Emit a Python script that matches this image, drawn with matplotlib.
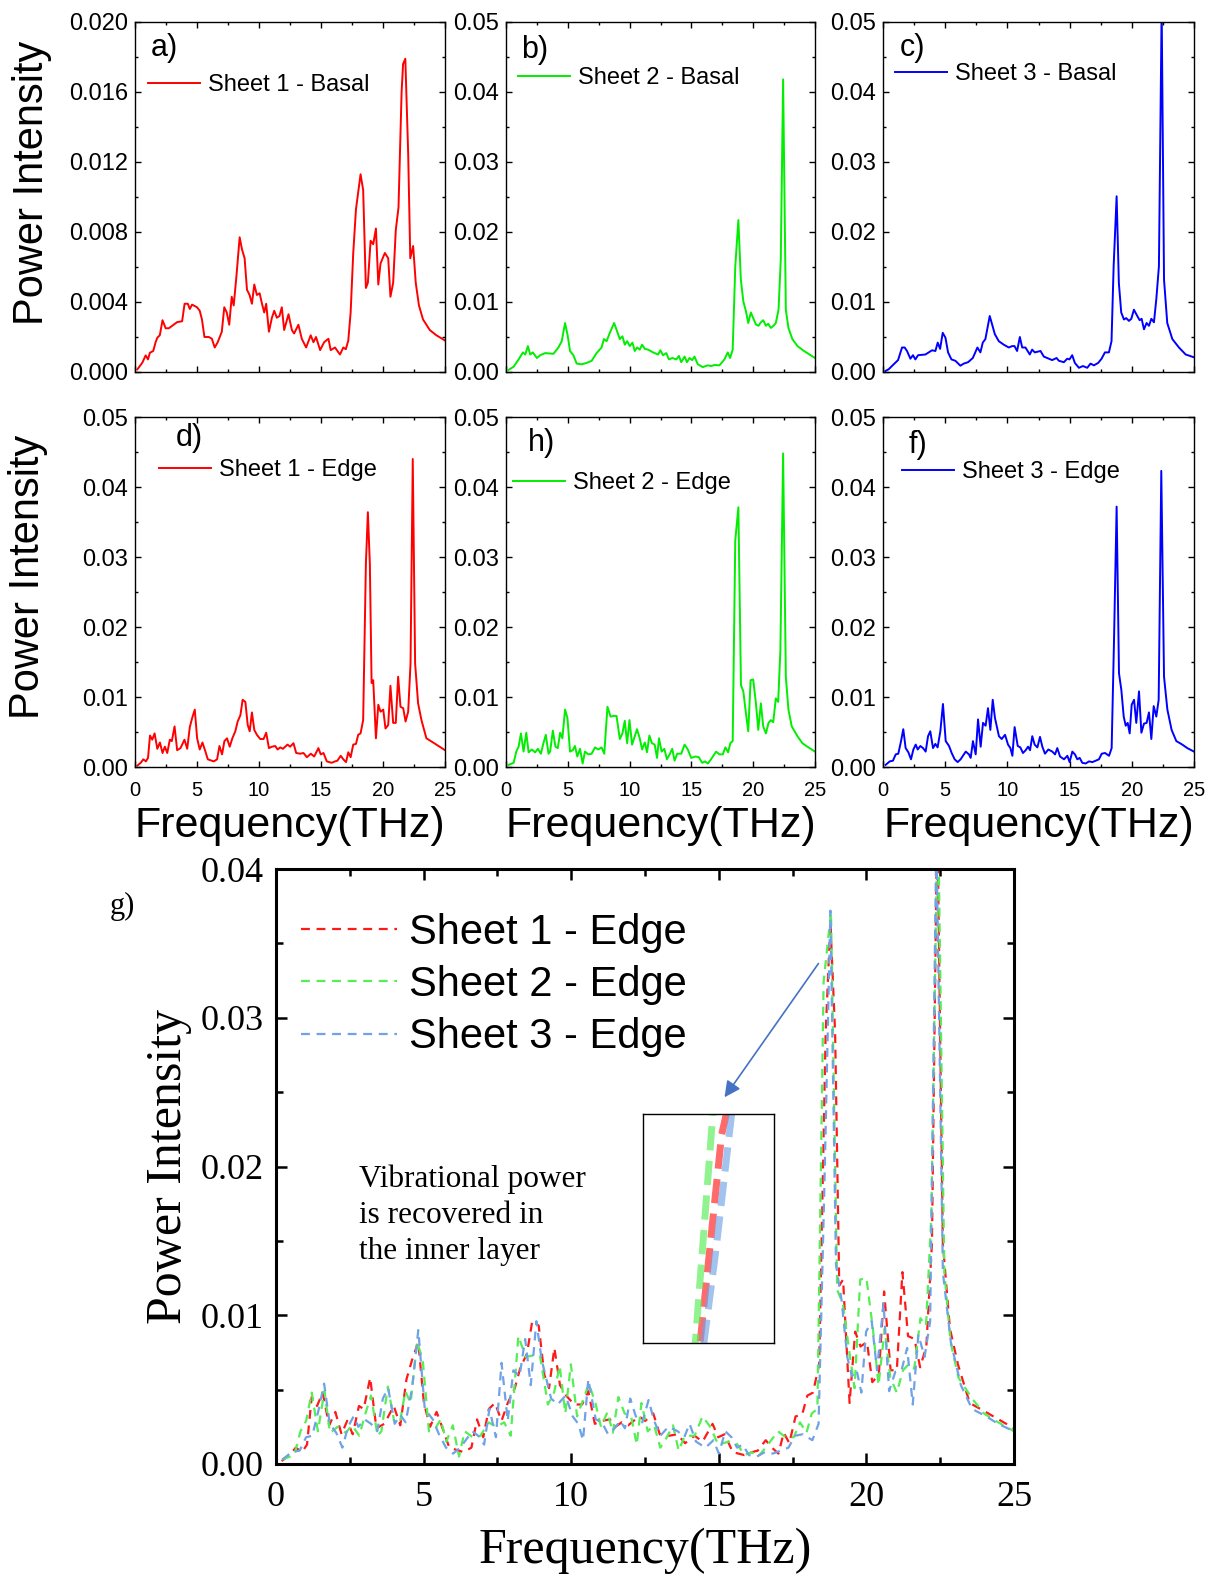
import numpy as np
import matplotlib
matplotlib.use("Agg")
import matplotlib.pyplot as plt
from matplotlib.ticker import MultipleLocator, FormatStrFormatter

# power spectra, (frequency THz, power intensity)
s1_basal = [(0.19, 0.00015), (0.59, 0.00053), (0.86, 0.00095), (1.05, 0.00072), (1.2, 0.0011), (1.47, 0.0012),
            (1.66, 0.0017), (1.8, 0.00196), (2.0, 0.0021), (2.22, 0.00296), (2.47, 0.0025), (2.73, 0.0025),
            (3.4, 0.00285), (3.8, 0.0029), (4.0, 0.0039), (4.26, 0.0039), (4.42, 0.0036), (4.6, 0.00385),
            (5.0, 0.0037), (5.22, 0.0035), (5.4, 0.003), (5.6, 0.002), (5.95, 0.002), (6.2, 0.0019),
            (6.43, 0.0014), (6.67, 0.0017), (7.0, 0.0023), (7.2, 0.0037), (7.4, 0.0034), (7.6, 0.0027),
            (7.8, 0.0043), (7.96, 0.0038), (8.17, 0.0054), (8.44, 0.0077), (8.63, 0.007), (8.84, 0.0065),
            (9.03, 0.0047), (9.24, 0.0044), (9.43, 0.0039), (9.62, 0.005), (9.83, 0.0044), (10.05, 0.0045),
            (10.24, 0.0039), (10.42, 0.0034), (10.58, 0.0039), (10.8, 0.0023), (11.04, 0.0031), (11.23, 0.0035),
            (11.44, 0.0031), (11.65, 0.0032), (11.84, 0.0037), (12.03, 0.0024), (12.38, 0.0033), (12.65, 0.0024),
            (12.83, 0.0022), (13.18, 0.0027), (13.45, 0.0019), (13.8, 0.0014), (14.17, 0.0021), (14.39, 0.0017),
            (14.6, 0.002), (14.93, 0.00125), (15.25, 0.0017), (15.6, 0.0019), (15.78, 0.00125), (16.13, 0.0014),
            (16.53, 0.001), (16.8, 0.0014), (17.0, 0.0013), (17.2, 0.0018), (17.39, 0.0034), (17.6, 0.0068),
            (17.82, 0.0093), (18.19, 0.0113), (18.4, 0.0104), (18.62, 0.0048), (18.78, 0.0051), (19.0, 0.0075),
            (19.21, 0.0073), (19.43, 0.0082), (19.62, 0.005), (19.8, 0.0062), (20.15, 0.0068), (20.42, 0.0065),
            (20.6, 0.0043), (20.82, 0.0051), (21.03, 0.0081), (21.25, 0.0094), (21.5, 0.016), (21.62, 0.0176),
            (21.8, 0.0179), (22.03, 0.0125), (22.2, 0.0065), (22.43, 0.0072), (22.64, 0.0051), (22.9, 0.0038),
            (23.23, 0.003), (23.77, 0.0024), (24.3, 0.0021), (25.0, 0.0018)]

s2_basal = [(0.21, 0.0003), (0.62, 0.00076), (1.02, 0.0018), (1.37, 0.0028), (1.56, 0.0025), (1.77, 0.0037),
            (1.96, 0.0025), (2.17, 0.0028), (2.5, 0.002), (2.77, 0.0024), (3.17, 0.0027), (3.84, 0.0026),
            (4.24, 0.0035), (4.51, 0.0044), (4.78, 0.007), (4.99, 0.0052), (5.18, 0.003), (5.45, 0.0024),
            (5.72, 0.0012), (6.12, 0.0011), (6.53, 0.0013), (6.93, 0.0016), (7.33, 0.0027), (7.73, 0.0035),
            (7.92, 0.0047), (8.14, 0.0044), (8.4, 0.0056), (8.75, 0.007), (8.99, 0.0058), (9.21, 0.0047),
            (9.42, 0.0051), (9.61, 0.0039), (9.8, 0.0044), (10.02, 0.0037), (10.23, 0.0042), (10.42, 0.003),
            (10.61, 0.0035), (10.82, 0.0032), (11.01, 0.0039), (11.23, 0.0033), (11.49, 0.0032), (11.9, 0.0028),
            (12.3, 0.0025), (12.49, 0.0031), (12.7, 0.0024), (12.97, 0.0027), (13.18, 0.0018), (13.45, 0.002),
            (13.78, 0.0018), (13.99, 0.0023), (14.18, 0.0014), (14.45, 0.0022), (14.64, 0.0014), (14.85, 0.002),
            (15.06, 0.0017), (15.25, 0.0022), (15.52, 0.0011), (15.92, 0.0007), (16.33, 0.00095), (16.6, 0.00085),
            (16.86, 0.001), (17.27, 0.00095), (17.67, 0.0018), (17.94, 0.0028), (18.13, 0.002), (18.34, 0.0032),
            (18.55, 0.0151), (18.8, 0.0217), (19.0, 0.0132), (19.2, 0.0101), (19.41, 0.0087), (19.6, 0.007),
            (19.81, 0.0085), (20.0, 0.0077), (20.22, 0.0068), (20.43, 0.0066), (20.62, 0.0071), (20.81, 0.0074),
            (21.03, 0.0066), (21.21, 0.0069), (21.43, 0.0063), (21.64, 0.0066), (21.83, 0.007), (22.05, 0.0089),
            (22.23, 0.016), (22.42, 0.0418), (22.64, 0.0089), (22.85, 0.0063), (23.17, 0.0047), (23.58, 0.0037),
            (24.11, 0.003), (25.0, 0.002)]

s3_basal = [(0.19, 0.00014), (0.46, 0.0004), (0.86, 0.0011), (1.21, 0.0017), (1.53, 0.0035), (1.74, 0.0035),
            (1.93, 0.003), (2.2, 0.0019), (2.41, 0.0024), (2.6, 0.0018), (2.82, 0.0024), (3.41, 0.0025),
            (3.94, 0.0031), (4.21, 0.003), (4.4, 0.0042), (4.59, 0.0033), (4.8, 0.0056), (5.02, 0.0049),
            (5.23, 0.0028), (5.5, 0.0018), (5.82, 0.0016), (6.22, 0.0009), (6.49, 0.0012), (6.84, 0.0014),
            (7.22, 0.002), (7.59, 0.0035), (7.83, 0.0028), (8.02, 0.0042), (8.23, 0.0047), (8.58, 0.008),
            (8.77, 0.0068), (8.99, 0.0054), (9.31, 0.0044), (9.71, 0.0039), (10.11, 0.0035), (10.38, 0.0037),
            (10.57, 0.0037), (10.78, 0.003), (11.0, 0.005), (11.19, 0.0035), (11.45, 0.0035), (11.8, 0.0025),
            (11.99, 0.0032), (12.2, 0.0028), (12.66, 0.003), (12.93, 0.0022), (13.33, 0.0019), (13.6, 0.0017),
            (13.95, 0.002), (14.14, 0.0016), (14.54, 0.0014), (14.81, 0.0019), (14.99, 0.0018), (15.21, 0.0024),
            (15.42, 0.0013), (15.75, 0.0006), (16.07, 0.00085), (16.42, 0.0006), (16.68, 0.0012), (16.95, 0.00095),
            (17.3, 0.0013), (17.57, 0.0019), (17.84, 0.0028), (18.16, 0.0028), (18.37, 0.0044), (18.54, 0.0151),
            (18.78, 0.0251), (18.96, 0.0127), (19.15, 0.0085), (19.37, 0.0075), (19.55, 0.0077), (19.77, 0.0073),
            (19.96, 0.0076), (20.17, 0.0089), (20.44, 0.008), (20.63, 0.0074), (20.79, 0.0076), (20.98, 0.0061),
            (21.19, 0.007), (21.38, 0.0066), (21.57, 0.0076), (21.78, 0.0071), (21.97, 0.0104), (22.18, 0.0151),
            (22.4, 0.052), (22.59, 0.0132), (22.85, 0.007), (23.26, 0.0047), (23.79, 0.0035), (24.33, 0.0025),
            (25.0, 0.0021)]

s1_edge = [(0.19, 0.0002), (0.46, 0.0006), (0.67, 0.0011), (0.88, 0.0008), (1.05, 0.0013), (1.21, 0.0045),
           (1.39, 0.0039), (1.58, 0.0048), (1.8, 0.0026), (2.01, 0.0035), (2.22, 0.002), (2.41, 0.0029),
           (2.6, 0.002), (2.81, 0.0039), (2.97, 0.0037), (3.19, 0.0058), (3.4, 0.0024), (3.67, 0.0027),
           (3.99, 0.0039), (4.21, 0.0026), (4.42, 0.0057), (4.61, 0.007), (4.82, 0.0082), (5.01, 0.0041),
           (5.22, 0.0025), (5.44, 0.0035), (5.68, 0.0022), (5.87, 0.0011), (6.35, 0.0008), (6.62, 0.0011),
           (6.81, 0.003), (7.02, 0.0018), (7.21, 0.0037), (7.42, 0.0041), (7.64, 0.0029), (7.85, 0.0041),
           (8.09, 0.0051), (8.28, 0.0065), (8.5, 0.0074), (8.68, 0.0096), (8.9, 0.0093), (9.09, 0.006),
           (9.25, 0.0051), (9.43, 0.0078), (9.62, 0.0053), (9.83, 0.0046), (10.1, 0.004), (10.37, 0.004),
           (10.58, 0.0049), (10.8, 0.0027), (11.04, 0.0029), (11.31, 0.003), (11.5, 0.0025), (11.71, 0.0028),
           (11.93, 0.0026), (12.3, 0.0032), (12.51, 0.0029), (12.78, 0.0034), (13.0, 0.002), (13.32, 0.0019),
           (13.59, 0.002), (13.86, 0.0014), (14.18, 0.0019), (14.45, 0.0015), (14.79, 0.0027), (14.98, 0.0018),
           (15.2, 0.002), (15.47, 0.0008), (15.86, 0.0006), (16.13, 0.0008), (16.32, 0.0009), (16.59, 0.0016),
           (16.8, 0.0011), (17.02, 0.0007), (17.2, 0.0021), (17.39, 0.0014), (17.6, 0.0032), (17.82, 0.0033),
           (18.0, 0.0046), (18.19, 0.0048), (18.4, 0.0067), (18.62, 0.029), (18.78, 0.0364), (18.94, 0.029),
           (19.08, 0.012), (19.21, 0.0124), (19.43, 0.0041), (19.62, 0.0089), (19.8, 0.0079), (20.02, 0.0082),
           (20.2, 0.0055), (20.42, 0.006), (20.6, 0.0116), (20.82, 0.0063), (21.03, 0.0063), (21.22, 0.0129),
           (21.41, 0.0086), (21.63, 0.0084), (21.82, 0.0065), (22.03, 0.0079), (22.22, 0.0148), (22.4, 0.044),
           (22.59, 0.0148), (22.83, 0.0091), (23.1, 0.0067), (23.5, 0.0041), (24.04, 0.0035), (25.0, 0.0024)]

s2_edge = [(0.21, 0.0003), (0.62, 0.0006), (0.83, 0.0022), (1.02, 0.0029), (1.21, 0.0048), (1.42, 0.0022),
           (1.64, 0.0049), (1.83, 0.0021), (2.09, 0.0025), (2.36, 0.0021), (2.58, 0.0026), (2.82, 0.0019),
           (3.03, 0.0034), (3.22, 0.0046), (3.44, 0.0019), (3.57, 0.0022), (3.79, 0.0052), (4.0, 0.0029),
           (4.19, 0.0027), (4.38, 0.0049), (4.56, 0.0041), (4.78, 0.0082), (4.97, 0.007), (5.18, 0.0022),
           (5.4, 0.0024), (5.58, 0.003), (5.77, 0.0015), (5.99, 0.0026), (6.2, 0.0005), (6.39, 0.0022),
           (6.66, 0.0018), (6.93, 0.0019), (7.2, 0.0028), (7.46, 0.0025), (7.73, 0.0028), (7.95, 0.0019),
           (8.21, 0.0086), (8.46, 0.0072), (8.72, 0.0073), (8.94, 0.0073), (9.21, 0.004), (9.42, 0.0048),
           (9.61, 0.0066), (9.8, 0.0034), (9.99, 0.0067), (10.2, 0.0032), (10.42, 0.0044), (10.6, 0.0054),
           (10.82, 0.0041), (11.01, 0.0025), (11.23, 0.0035), (11.41, 0.0021), (11.6, 0.0045), (11.81, 0.0034),
           (12.03, 0.0032), (12.22, 0.0013), (12.38, 0.0041), (12.59, 0.0022), (12.81, 0.0026), (13.02, 0.0011),
           (13.24, 0.0018), (13.45, 0.0026), (13.64, 0.0009), (13.85, 0.0019), (14.18, 0.0019), (14.45, 0.0032),
           (14.71, 0.0025), (14.98, 0.0013), (15.33, 0.0015), (15.6, 0.0014), (15.87, 0.0006), (16.11, 0.0008),
           (16.33, 0.0005), (16.59, 0.0011), (17.0, 0.0022), (17.27, 0.0018), (17.54, 0.0018), (17.75, 0.0028),
           (17.97, 0.0021), (18.15, 0.0034), (18.34, 0.0037), (18.55, 0.0324), (18.8, 0.0371), (19.01, 0.0117),
           (19.2, 0.0108), (19.41, 0.0077), (19.6, 0.0051), (19.79, 0.0124), (20.0, 0.0125), (20.22, 0.0091),
           (20.41, 0.0053), (20.62, 0.0091), (20.81, 0.0058), (21.03, 0.0048), (21.24, 0.0063), (21.43, 0.0067),
           (21.62, 0.0064), (21.83, 0.0098), (22.02, 0.0093), (22.2, 0.0167), (22.42, 0.0448), (22.64, 0.0129),
           (22.85, 0.0082), (23.12, 0.0058), (23.58, 0.0044), (23.98, 0.0034), (24.38, 0.0029), (25.0, 0.0022)]

s3_edge = [(0.21, 0.0003), (0.54, 0.0008), (0.8, 0.0009), (1.02, 0.0018), (1.23, 0.0019), (1.45, 0.0037),
           (1.63, 0.0054), (1.82, 0.0027), (2.04, 0.0021), (2.25, 0.0011), (2.44, 0.0025), (2.63, 0.0032),
           (2.79, 0.0025), (3.0, 0.003), (3.22, 0.0027), (3.43, 0.0022), (3.62, 0.0044), (3.8, 0.0051),
           (4.02, 0.0027), (4.21, 0.0033), (4.39, 0.0028), (4.61, 0.0051), (4.82, 0.009), (5.04, 0.0037),
           (5.31, 0.003), (5.52, 0.002), (5.76, 0.0011), (6.0, 0.0007), (6.24, 0.0011), (6.65, 0.0022),
           (6.91, 0.0018), (7.05, 0.0013), (7.23, 0.0037), (7.45, 0.0018), (7.64, 0.0068), (7.85, 0.0029),
           (8.04, 0.0063), (8.25, 0.0059), (8.44, 0.0084), (8.63, 0.0053), (8.82, 0.0096), (9.0, 0.007),
           (9.32, 0.0044), (9.54, 0.004), (9.81, 0.0046), (10.05, 0.0032), (10.24, 0.0027), (10.4, 0.0016),
           (10.58, 0.0057), (10.83, 0.003), (11.04, 0.0028), (11.25, 0.002), (11.47, 0.0024), (11.66, 0.0029),
           (11.82, 0.0024), (12.0, 0.0044), (12.19, 0.0032), (12.41, 0.0028), (12.62, 0.0043), (12.81, 0.0029),
           (13.02, 0.0019), (13.29, 0.0025), (13.61, 0.0022), (13.83, 0.0018), (14.01, 0.0027), (14.23, 0.0015),
           (14.55, 0.0011), (14.82, 0.0016), (15.0, 0.0007), (15.22, 0.0022), (15.43, 0.0018), (15.62, 0.0011),
           (15.81, 0.0013), (16.02, 0.0006), (16.29, 0.0005), (16.56, 0.0008), (16.83, 0.0007), (17.1, 0.0009),
           (17.36, 0.0011), (17.58, 0.0019), (17.85, 0.002), (18.17, 0.0016), (18.38, 0.0027), (18.57, 0.0181),
           (18.78, 0.0372), (18.97, 0.0134), (19.16, 0.011), (19.35, 0.0072), (19.51, 0.0059), (19.67, 0.0063),
           (19.83, 0.0048), (19.99, 0.0089), (20.18, 0.0096), (20.36, 0.0063), (20.58, 0.0108), (20.77, 0.0049),
           (20.98, 0.0062), (21.19, 0.0063), (21.38, 0.0078), (21.57, 0.004), (21.76, 0.0087), (21.97, 0.0072),
           (22.16, 0.0096), (22.37, 0.0423), (22.59, 0.0129), (22.86, 0.0082), (23.2, 0.0053), (23.58, 0.0037),
           (24.06, 0.0032), (24.46, 0.0027), (25.0, 0.0022)]

W, H = 1209, 1574
SANS = "Liberation Sans"
SERIF = "Liberation Serif"

fig = plt.figure(figsize=(W / 100, H / 100), dpi=100)


def px_axes(x0, y0, x1, y1):
    # axes from pixel box (top-left origin)
    return fig.add_axes([x0 / W, 1 - y1 / H, (x1 - x0) / W, (y1 - y0) / H])


panels = [
    # data, color, legend label, tag, box, ymax, ymajor, fmt, legend pos, tag pos
    (s1_basal, "#ff0000", "Sheet 1 - Basal", "a)", (135, 22, 445, 372), 0.020, 0.004, "%.3f", (0.042, 0.82), (0.05, 0.926)),
    (s2_basal, "#00ee00", "Sheet 2 - Basal", "b)", (506, 22, 815, 372), 0.05, 0.01, "%.2f", (0.039, 0.84), (0.049, 0.92)),
    (s3_basal, "#0000ff", "Sheet 3 - Basal", "c)", (883, 22, 1194, 372), 0.05, 0.01, "%.2f", (0.039, 0.851), (0.055, 0.926)),
    (s1_edge, "#ff0000", "Sheet 1 - Edge", "d)", (135, 417, 445, 767), 0.05, 0.01, "%.2f", (0.077, 0.849), (0.13, 0.94)),
    (s2_edge, "#00ee00", "Sheet 2 - Edge", "h)", (506, 417, 815, 767), 0.05, 0.01, "%.2f", (0.023, 0.811), (0.071, 0.926)),
    (s3_edge, "#0000ff", "Sheet 3 - Edge", "f)", (883, 417, 1194, 767), 0.05, 0.01, "%.2f", (0.061, 0.843), (0.084, 0.92)),
]

for i, (data, col, lab, tag, box, ymax, ymaj, fmt, lpos, tpos) in enumerate(panels):
    ax = px_axes(*box)
    f, p = np.array(data).T
    ax.plot(f, p, color=col, lw=1.4, label=lab)
    ax.set_xlim(0, 25)
    ax.set_ylim(0, ymax)
    ax.xaxis.set_major_locator(MultipleLocator(5))
    ax.xaxis.set_minor_locator(MultipleLocator(2.5))
    ax.yaxis.set_major_locator(MultipleLocator(ymaj))
    ax.yaxis.set_minor_locator(MultipleLocator(ymaj / 2))
    ax.yaxis.set_major_formatter(FormatStrFormatter(fmt))
    ax.tick_params(which="both", direction="in", top=True, right=True, width=1.0)
    ax.tick_params(which="major", length=4)
    ax.tick_params(which="minor", length=2.5)
    ax.tick_params(axis="y", labelsize=17, pad=5)
    ax.tick_params(axis="x", labelsize=14.5, pad=10, labelbottom=(i >= 3))
    for lbl in ax.get_xticklabels() + ax.get_yticklabels():
        lbl.set_fontfamily(SANS)
    for s in ax.spines.values():
        s.set_linewidth(1.0)
    ax.legend(loc="center left", bbox_to_anchor=lpos, frameon=False, borderpad=0, borderaxespad=0,
              handlelength=2.2, handletextpad=0.35, prop={"family": SANS, "size": 17})
    ax.text(tpos[0], tpos[1], tag, transform=ax.transAxes, ha="left", va="center",
            fontsize=22, fontfamily=SANS)
    if i >= 3:
        cx = (box[0] + box[2]) / 2
        fig.text(cx / W, 1 - 826 / H, "Frequency(THz)", ha="center", va="center",
                 fontsize=31, fontfamily=SANS)

fig.text(32 / W, 1 - 183 / H, "Power Intensity", rotation=90, ha="center", va="center",
         fontsize=30, fontfamily=SANS)
fig.text(28 / W, 1 - 577 / H, "Power Intensity", rotation=90, ha="center", va="center",
         fontsize=30, fontfamily=SANS)

# combined edge spectra
axg = px_axes(276, 869, 1014, 1464)
g_series = [(s1_edge, "#ff1a1a", "Sheet 1 - Edge"),
            (s2_edge, "#55ee55", "Sheet 2 - Edge"),
            (s3_edge, "#6fa3e6", "Sheet 3 - Edge")]
for data, col, lab in g_series:
    f, p = np.array(data).T
    axg.plot(f, p, color=col, lw=1.6, ls=(0, (4, 3)), label=lab)
axg.set_xlim(0, 25)
axg.set_ylim(0, 0.04)
axg.xaxis.set_major_locator(MultipleLocator(5))
axg.xaxis.set_minor_locator(MultipleLocator(2.5))
axg.yaxis.set_major_locator(MultipleLocator(0.01))
axg.yaxis.set_minor_locator(MultipleLocator(0.005))
axg.yaxis.set_major_formatter(FormatStrFormatter("%.2f"))
axg.tick_params(which="both", direction="in", top=True, right=True, width=1.8)
axg.tick_params(which="major", length=8)
axg.tick_params(which="minor", length=5)
axg.tick_params(axis="y", labelsize=26, pad=9)
axg.tick_params(axis="x", labelsize=26, pad=12)
for lbl in axg.get_xticklabels() + axg.get_yticklabels():
    lbl.set_fontfamily(SERIF)
for s in axg.spines.values():
    s.set_linewidth(2.2)
axg.set_xlabel("Frequency(THz)", fontsize=36, fontfamily=SERIF, labelpad=10)
axg.set_ylabel("Power Intensity", fontsize=36, fontfamily=SERIF, labelpad=6)
axg.legend(loc="center left", bbox_to_anchor=(0.034, 0.805), frameon=False, borderpad=0,
           borderaxespad=0, handlelength=2.3, handletextpad=0.29, labelspacing=0.29,
           prop={"family": SANS, "size": 30})
axg.text(0.112, 0.418, "Vibrational power\nis recovered in\nthe inner layer", transform=axg.transAxes,
         ha="left", va="center", fontsize=22.5, fontfamily=SERIF, linespacing=1.32)
axg.annotate("", xy=(15.14, 0.0245), xytext=(18.43, 0.0338),
             arrowprops=dict(arrowstyle="-|>", color="#4472c4", lw=1.2, mutation_scale=24))
fig.text(110 / W, 1 - 906 / H, "g)", ha="left", va="center", fontsize=22, fontfamily=SERIF)

# zoom on the rising edge of the 18.8 THz peak
axi = px_axes(643, 1114, 774, 1343)
for data, col, lab in g_series:
    f, p = np.array(data).T
    rise = f <= 18.8
    axi.plot(f[rise], p[rise], color=col, lw=5, alpha=0.65, ls=(0, (3.5, 1.5)))
axi.set_xlim(17.9, 19.1)
axi.set_ylim(0.009, 0.031)
axi.set_xticks([])
axi.set_yticks([])
for s in axi.spines.values():
    s.set_linewidth(1.0)

fig.savefig("out.png", dpi=100)
